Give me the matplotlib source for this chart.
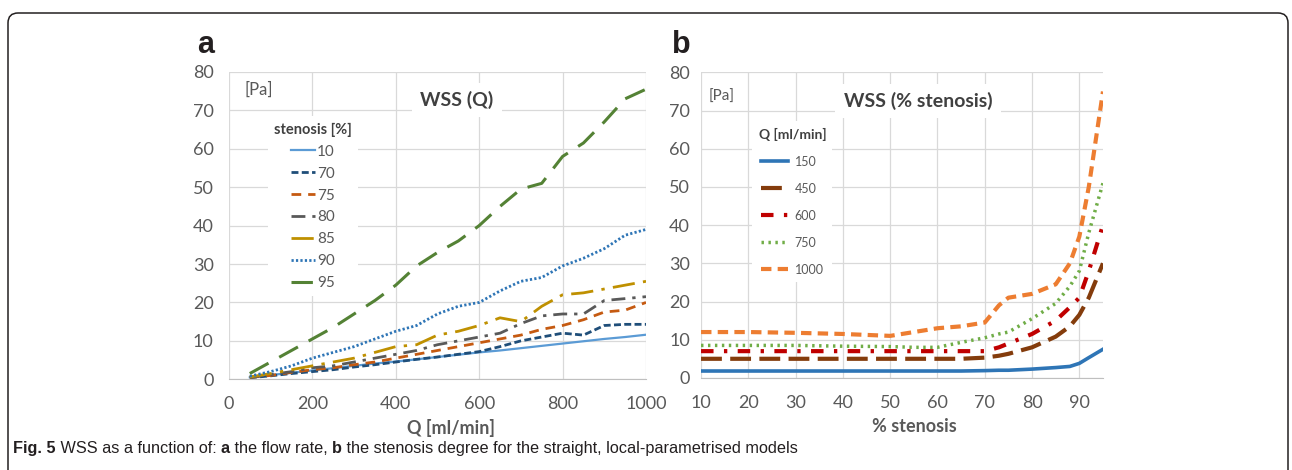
import numpy as np
import matplotlib
matplotlib.use('Agg')
import matplotlib.pyplot as plt
from matplotlib.patches import FancyBboxPatch
from matplotlib.transforms import IdentityTransform

plt.rcParams['font.family'] = ['Lato', 'DejaVu Sans']

# Panel a: WSS as a function of flow rate, one curve per stenosis degree
q_flow = [50, 100, 150, 200, 250, 300, 350, 400, 450, 500,
          550, 600, 650, 700, 750, 800, 850, 900, 950, 1000]
wss_s10 = [0.5, 1.1, 1.7, 2.3, 2.9, 3.5, 4.1, 4.6, 5.2, 5.8,
           6.4, 7.0, 7.5, 8.1, 8.7, 9.3, 9.9, 10.5, 11.0, 11.6]
wss_s70 = [0.4, 0.9, 1.5, 2.0, 2.5, 3.2, 3.8, 4.5, 5.2, 5.8,
           6.5, 7.2, 8.5, 10.0, 11.0, 12.0, 11.5, 14.0, 14.3, 14.3]
wss_s75 = [0.5, 1.0, 1.8, 2.5, 3.0, 3.8, 4.5, 5.5, 6.5, 7.5,
           8.5, 9.5, 10.5, 11.5, 13.0, 14.0, 15.5, 17.5, 18.0, 20.0]
wss_s80 = [0.5, 1.2, 2.0, 3.0, 3.5, 4.5, 5.5, 6.5, 7.5, 9.0,
           10.0, 11.0, 12.0, 14.5, 16.5, 17.0, 17.0, 20.5, 21.0, 21.5]
wss_s85 = [0.6, 1.5, 2.5, 3.5, 4.5, 5.5, 7.0, 8.5, 9.0, 11.5,
           12.5, 14.0, 16.0, 15.0, 19.0, 22.0, 22.5, 23.5, 24.5, 25.5]
wss_s90 = [0.8, 2.0, 3.5, 5.5, 7.0, 8.5, 10.5, 12.5, 14.0, 17.0,
           19.0, 20.0, 23.0, 25.5, 26.5, 29.5, 31.5, 34.0, 37.5, 39.0]
wss_s95 = [1.5, 4.5, 7.5, 10.5, 13.5, 17.0, 20.5, 24.5, 29.5, 33.0,
           36.0, 40.0, 45.0, 49.5, 51.0, 58.0, 61.5, 67.0, 73.0, 75.5]

# Panel b: WSS as a function of stenosis degree, one curve per flow rate
stenosis = [10, 20, 30, 40, 50, 55, 60, 65, 70, 73, 75, 80, 85, 88, 90, 92, 95]
wss_q150 = [1.8, 1.8, 1.8, 1.8, 1.8, 1.8, 1.8, 1.8, 1.9, 2.0, 2.0, 2.3, 2.7, 3.0, 3.8, 5.3, 7.5]
wss_q450 = [5.0, 5.0, 5.0, 5.0, 5.0, 5.0, 5.0, 5.0, 5.3, 5.8, 6.3, 8.0, 10.8, 13.5, 16.5, 21.0, 30.0]
wss_q600 = [7.0, 7.0, 7.0, 7.0, 7.0, 7.0, 7.0, 7.0, 7.0, 8.0, 9.0, 11.5, 15.0, 18.5, 21.0, 28.0, 40.0]
wss_q750 = [8.5, 8.5, 8.5, 8.3, 8.2, 8.0, 8.0, 9.3, 10.5, 11.5, 12.0, 15.5, 19.5, 24.0, 28.0, 38.0, 51.0]
wss_q1000 = [12.0, 12.0, 11.8, 11.5, 11.0, 12.0, 13.0, 13.5, 14.5, 19.0, 21.0, 22.0, 24.5, 30.0, 37.0, 50.0, 75.0]

grid_col = '#D9D9D9'
tick_col = '#595959'
text_col = '#404040'

fig = plt.figure(figsize=(12.92, 4.70), dpi=100)
ax_a = fig.add_axes([0.1772, 0.193, 0.3228, 0.654])
ax_b = fig.add_axes([0.5426, 0.196, 0.3111, 0.650])

for ax in (ax_a, ax_b):
    ax.set_ylim(0, 80)
    ax.set_yticks(np.arange(0, 81, 10))
    ax.grid(True, color=grid_col, linewidth=0.9)
    ax.set_axisbelow(True)
    for s in ('top', 'right', 'left'):
        ax.spines[s].set_visible(False)
    ax.spines['bottom'].set_color('#BFBFBF')
    ax.tick_params(length=0, labelsize=13, colors=tick_col)

# ---- panel a
ax_a.set_xlim(0, 1000)
ax_a.set_xticks(np.arange(0, 1001, 200))
ax_a.tick_params(axis='y', pad=11)
ax_a.tick_params(axis='x', pad=12)
ax_a.plot(q_flow, wss_s10, color='#5B9BD5', lw=1.6, label='10')
ax_a.plot(q_flow, wss_s70, color='#1F4E79', lw=2, dashes=(2.5, 1.2), label='70')
ax_a.plot(q_flow, wss_s75, color='#C55A11', lw=2, dashes=(3.5, 2.5), label='75')
ax_a.plot(q_flow, wss_s80, color='#595959', lw=2, dashes=(5, 2.5, 1.2, 2.5), label='80')
ax_a.plot(q_flow, wss_s85, color='#BF9000', lw=2, dashes=(8, 3, 1.2, 3), label='85')
ax_a.plot(q_flow, wss_s90, color='#2E75B6', lw=2, dashes=(0.8, 0.8), label='90')
ax_a.plot(q_flow, wss_s95, color='#548235', lw=2.2, dashes=(7, 4), label='95')

leg_a = ax_a.legend(title='stenosis [%]', loc='upper left', bbox_to_anchor=(0.075, 0.88),
                    fontsize=11, title_fontproperties={'weight': 'bold', 'size': 10.5},
                    handlelength=1.6, handletextpad=0.1, labelspacing=0.52,
                    frameon=True, fancybox=False, framealpha=1, edgecolor='none',
                    borderpad=0.4)
for t in leg_a.get_texts():
    t.set_color(tick_col)
leg_a.get_title().set_color(text_col)

ax_a.text(72, 75.3, '[Pa]', fontsize=12, color=tick_col, ha='center', va='center')
ax_a.text(546, 72.7, 'WSS (Q)', fontsize=14, fontweight='bold', color=text_col,
          ha='center', va='center',
          bbox=dict(facecolor='white', edgecolor='none', pad=6))
ax_a.set_xlabel('Q [ml/min]', fontsize=13, fontweight='bold', color=tick_col)
ax_a.xaxis.set_label_coords(0.532, -0.13)

# ---- panel b
ax_b.set_xlim(10, 95)
ax_b.set_xticks(np.arange(10, 91, 10))
ax_b.tick_params(axis='y', pad=8)
ax_b.tick_params(axis='x', pad=12)
ax_b.plot(stenosis, wss_q150, color='#2E75B6', lw=2.6, label='150')
ax_b.plot(stenosis, wss_q450, color='#843C0C', lw=3, dashes=(5, 2), label='450')
ax_b.plot(stenosis, wss_q600, color='#C00000', lw=3, dashes=(3, 2.5, 0.8, 2.5), label='600')
ax_b.plot(stenosis, wss_q750, color='#70AD47', lw=2.5, dashes=(0.7, 1.3), label='750')
ax_b.plot(stenosis, wss_q1000, color='#ED7D31', lw=3, dashes=(2.5, 1.5), label='1000')

leg_b = ax_b.legend(title='Q [ml/min]', loc='upper left', bbox_to_anchor=(0.112, 0.86),
                    fontsize=9, title_fontproperties={'weight': 'bold', 'size': 10},
                    handlelength=2.2, handletextpad=0.5, labelspacing=1.2,
                    frameon=True, fancybox=False, framealpha=1, edgecolor='none',
                    borderpad=0.5)
for t in leg_b.get_texts():
    t.set_color(tick_col)
leg_b.get_title().set_color(text_col)

ax_b.text(14.4, 73.6, '[Pa]', fontsize=11, color=tick_col, ha='center', va='center')
ax_b.text(55.9, 72.5, 'WSS (% stenosis)', fontsize=14, fontweight='bold', color=text_col,
          ha='center', va='center',
          bbox=dict(facecolor='white', edgecolor='none', pad=6))
ax_b.set_xlabel('% stenosis', fontsize=13, fontweight='bold', color=tick_col)
ax_b.xaxis.set_label_coords(0.53, -0.13)

# panel letters
fig.text(197 / 1292, 1 - 53 / 470, 'a', fontsize=22, fontweight='bold',
         family=['Liberation Sans', 'DejaVu Sans'], color='#231F20')
fig.text(672 / 1292, 1 - 53 / 470, 'b', fontsize=22, fontweight='bold',
         family=['Liberation Sans', 'DejaVu Sans'], color='#231F20')

# outer rounded frame
frame = FancyBboxPatch((8, -20), 1280, 457 + 20, boxstyle='round,pad=0,rounding_size=10',
                       transform=IdentityTransform(), facecolor='none',
                       edgecolor='#231F20', linewidth=1.1)
fig.patches.append(frame)

# caption, written piece by piece
caption = [('Fig. 5', 'bold'), (' WSS as a function of: ', 'normal'), ('a', 'bold'),
           (' the flow rate, ', 'normal'), ('b', 'bold'),
           (' the stenosis degree for the straight, local-parametrised models', 'normal')]
renderer = fig.canvas.get_renderer()
x_px = 13
for txt, w in caption:
    t = fig.text(x_px / 1292, 1 - 453 / 470, txt, fontsize=11.7, fontweight=w,
                 family=['Liberation Sans', 'DejaVu Sans'], color='#231F20',
                 va='baseline')
    x_px += t.get_window_extent(renderer).width

fig.savefig('out.png', dpi=100)
